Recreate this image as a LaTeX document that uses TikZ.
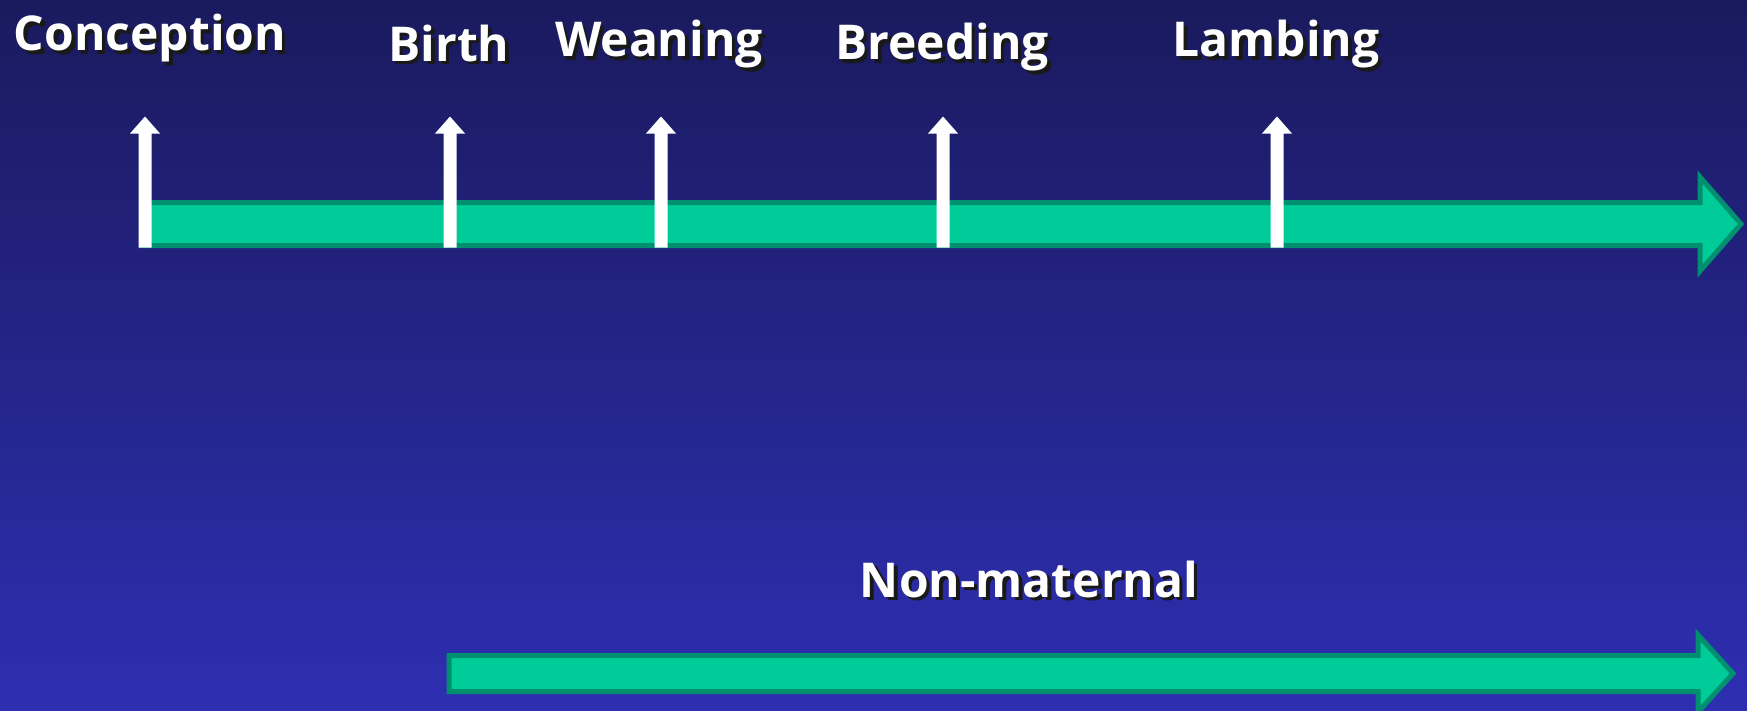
\documentclass[tikz,border=0pt]{standalone}
\usepackage{fontspec}
\setmainfont{Open Sans}
\usetikzlibrary{calc}
\definecolor{bgtop}{HTML}{1A1A5E}
\definecolor{bgbot}{HTML}{2E2EB2}
\definecolor{bandfill}{HTML}{00CC99}
\definecolor{bandedge}{HTML}{009070}
\newcommand\shtext[1]{\makebox[0pt][l]{\hspace{3.5pt}\raisebox{-3.5pt}{\textcolor{black!90}{#1}}}#1}
\tikzset{
  bandarrow/.style={fill=bandfill, draw=bandedge, line width=5pt, line join=miter},
  tickarrow/.style={fill=white},
  lbl/.style={text=white, font=\bfseries\fontsize{48}{56}\selectfont, inner sep=0pt, anchor=center}
}
\begin{document}
\begin{tikzpicture}[x=1pt,y=-1pt]
\shade[top color=bgtop,bottom color=bgbot] (0,0) rectangle (1747,710);
\useasboundingbox (0,0) rectangle (1747,710);
\begin{scope}
\clip (0,0) rectangle (1747,710);
% timeline band
\draw[bandarrow] (141.5,202.5) -- (1700,202.5) -- (1700,177) -- (1741,224) -- (1700,271) -- (1700,245.5) -- (141.5,245.5) -- cycle;
% non-maternal band
\draw[bandarrow] (449,655.5) -- (1698,655.5) -- (1698,635) -- (1733,673.5) -- (1698,712) -- (1698,691.5) -- (449,691.5) -- cycle;
\end{scope}
% event ticks
\foreach \x/\n in {145/a,450/b,661/c,943/d,1277/e} {
  \coordinate (tick-\n) at (\x,247.5);
  \fill[tickarrow] ($(tick-\n)+(-6.5,0)$) -- ++(0,-114) -- ++(-8.5,0) -- ($(tick-\n)+(0,-131)$) -- ($(tick-\n)+(15,-114)$) -- ++(-8.5,0) -- ($(tick-\n)+(6.5,0)$) -- cycle;
}
\node[lbl] (conc)  at (150,40)  {\shtext{Conception}};
\node[lbl] (birth) at (449,45)  {\shtext{Birth}};
\node[lbl] (wean)  at (659,46)  {\shtext{Weaning}};
\node[lbl] (breed) at (942,49)  {\shtext{Breeding}};
\node[lbl] (lamb)  at (1276,46) {\shtext{Lambing}};
\node[lbl] (nonm)  at (1029,581){\shtext{Non-maternal}};
\end{tikzpicture}
\end{document}
